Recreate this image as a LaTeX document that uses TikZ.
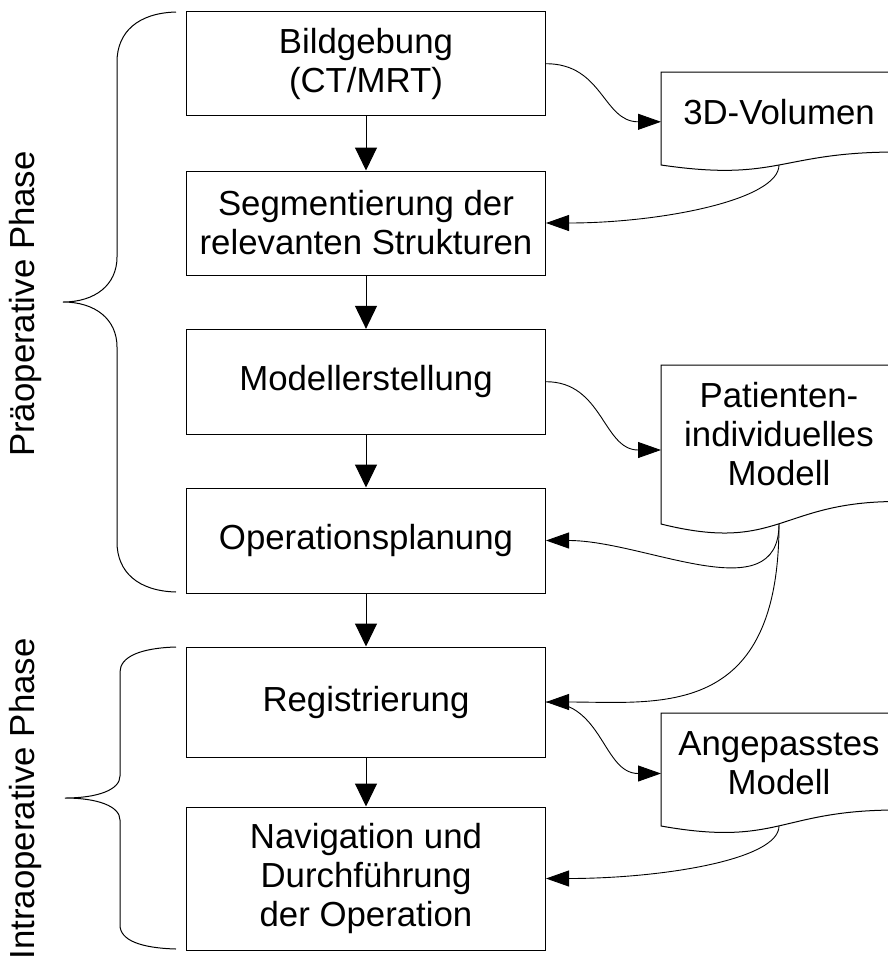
\documentclass[tikz,border=0pt]{standalone}
\usepackage{fontspec}
\setmainfont{Liberation Sans}
\usetikzlibrary{arrows.meta}
\begin{document}
\begin{tikzpicture}[x=1pt,y=-1pt,
  txt/.style={font=\fontsize{34.8}{39}\selectfont},
  box/.style={txt, draw=black, line width=1pt, minimum width=359pt, inner sep=0pt, align=center},
  lbl/.style={txt, inner sep=0pt, align=center},
  docshape/.style={draw=black, line width=1pt},
  flow/.style={-{Triangle[length=23pt,width=22pt]}, line width=1pt},
  link/.style={-{Triangle[length=23pt,width=16pt]}, line width=0.9pt},
  brace/.style={line width=1pt}]
\clip (0,0) rectangle (888,959);
% process boxes
\node[box, minimum height=104pt] (b1) at (366,63.7) {Bildgebung\\(CT/MRT)};
\node[box, minimum height=104pt] (b2) at (366,223) {Segmentierung der\\relevanten Strukturen};
\node[box, minimum height=104.7pt] (b3) at (366,381.7) {Modellerstellung};
\node[box, minimum height=105pt] (b4) at (366,540.5) {Operationsplanung};
\node[box, minimum height=110pt] (b5) at (366,702) {Registrierung};
\node[box, minimum height=143pt] (b6) at (366,878.5) {Navigation und\\Durchführung\\der Operation};
% document shapes
\draw[docshape] (661,72) -- (897,72) -- (897,152) .. controls (779,152) and (779,182.3) .. (661,165) -- cycle;
\coordinate (d1w) at (661,121.8);
\coordinate (d1s) at (779,165);
\node[lbl] (t1) at (779,112.5) {3D-Volumen};
\draw[docshape] (661,365) -- (897,365) -- (897,501.5) .. controls (779,501.5) and (779,553.4) .. (661,524) -- cycle;
\coordinate (d2w) at (661,450);
\coordinate (d2s) at (779,524);
\node[lbl] (t2) at (779,434) {Patienten-\\individuelles\\Modell};
\draw[docshape] (661,713) -- (897,713) -- (897,810) .. controls (779,810) and (779,847) .. (661,826) -- cycle;
\coordinate (d3w) at (661,773.5);
\coordinate (d3s) at (779,826);
\node[lbl] (t3) at (779,763) {Angepasstes\\Modell};
% straight flow arrows
\draw[flow] (b1.south) -- (b2.north);
\draw[flow] (b2.south) -- (b3.north);
\draw[flow] (b3.south) -- (b4.north);
\draw[flow] (b4.south) -- (b5.north);
\draw[flow] (b5.south) -- (b6.north);
% curved connectors
\draw[link] (b1.east) .. controls (603,63.7) and (603,121.8) .. (d1w);
\draw[link] (d1s) .. controls (779,200) and (660,223) .. (b2.east);
\draw[link] (b3.east) .. controls (603,381.7) and (603,450) .. (d2w);
\draw[link] (d2s) .. controls (779,612) and (645,540.5) .. (b4.east);
\draw[link] (d2s) .. controls (779,720) and (660,702) .. (b5.east);
\draw[link] (b5.east) .. controls (603,702) and (603,773.5) .. (d3w);
\draw[link] (d3s) .. controls (779,860) and (660,878.5) .. (b6.east);
% braces
\draw[brace] (176,12) .. controls (138,13) and (117,32) .. (117,62) -- (117,257)
  .. controls (117,285) and (95,302) .. (63,302)
  .. controls (95,302) and (117,319) .. (117,347) -- (117,542)
  .. controls (117,572) and (138,591) .. (176,592);
\draw[brace] (176,647) .. controls (140,648) and (120,657) .. (120,672) -- (120,776)
  .. controls (120,790) and (97,798) .. (65,798)
  .. controls (97,798) and (120,806) .. (120,820) -- (120,925)
  .. controls (120,940) and (140,948) .. (176,949);
% phase labels
\node[lbl, rotate=90] (p1) at (26,304) {Präoperative Phase};
\node[lbl, rotate=90] (p2) at (26,799) {Intraoperative Phase};
\end{tikzpicture}
\end{document}
